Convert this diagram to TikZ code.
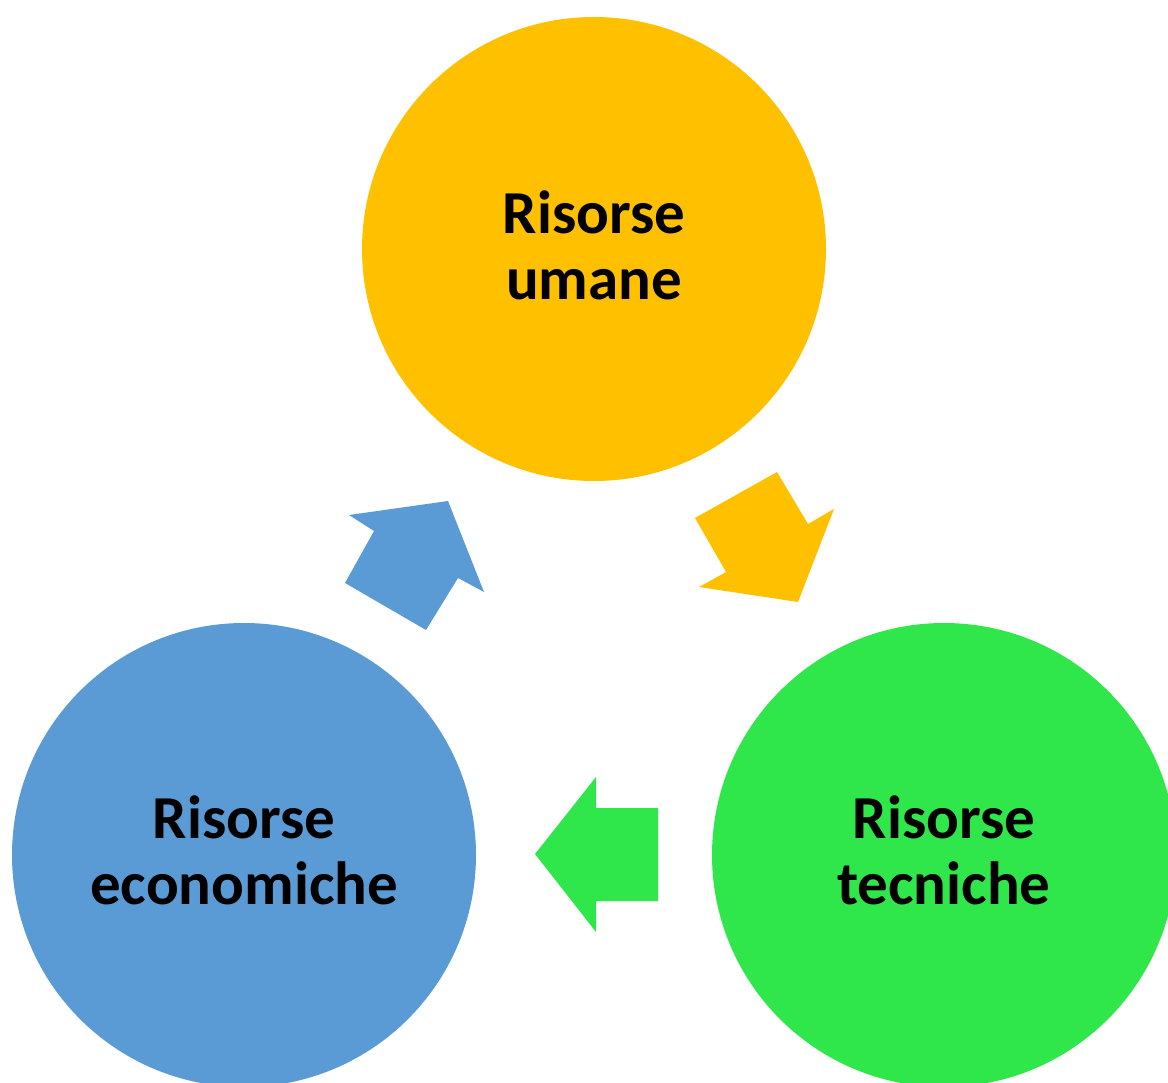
\documentclass[tikz,border=0pt]{standalone}
\usepackage{fontspec}
\setmainfont{Carlito}
\definecolor{corange}{RGB}{255,192,0}
\definecolor{cblue}{RGB}{91,155,213}
\definecolor{cgreen}{RGB}{47,231,74}
\begin{document}
\begin{tikzpicture}[x=1pt,y=-1pt,
  res/.style={circle,draw=none,minimum size=464pt,inner sep=0pt},
  lbl/.style={inner sep=0pt,align=center,
    font=\fontsize{61}{66}\selectfont\bfseries,text=black}]
\useasboundingbox (0,0) rectangle (1168,1083);
\clip (0,0) rectangle (1168,1083);
\node[res,fill=corange] (umane) at (594,249) {};
\node[res,fill=cblue] (econ) at (244,855) {};
\node[res,fill=cgreen] (tecn) at (944,855) {};
\node[lbl] (tumane) at ([yshift=4pt]umane.center) {Risorse\\umane};
\node[lbl] (tecon) at ([yshift=5pt]econ.center) {Risorse\\economiche};
\node[lbl] (ttecn) at ([yshift=5pt]tecn.center) {Risorse\\tecniche};
% orange arrow
\fill[corange] (695,518) -- (777,472) -- (808,524) -- (834,509) -- (798,602) -- (699,587) -- (726,572) -- cycle;
% blue arrow
\fill[cblue] (345,583) -- (426,630) -- (458,578) -- (484,592) -- (448,501) -- (349,515) -- (374,531) -- cycle;
% green arrow
\fill[cgreen] (535,854) -- (596,777) -- (596,808) -- (658,808) -- (658,901) -- (596,901) -- (596,932) -- cycle;
\end{tikzpicture}
\end{document}
